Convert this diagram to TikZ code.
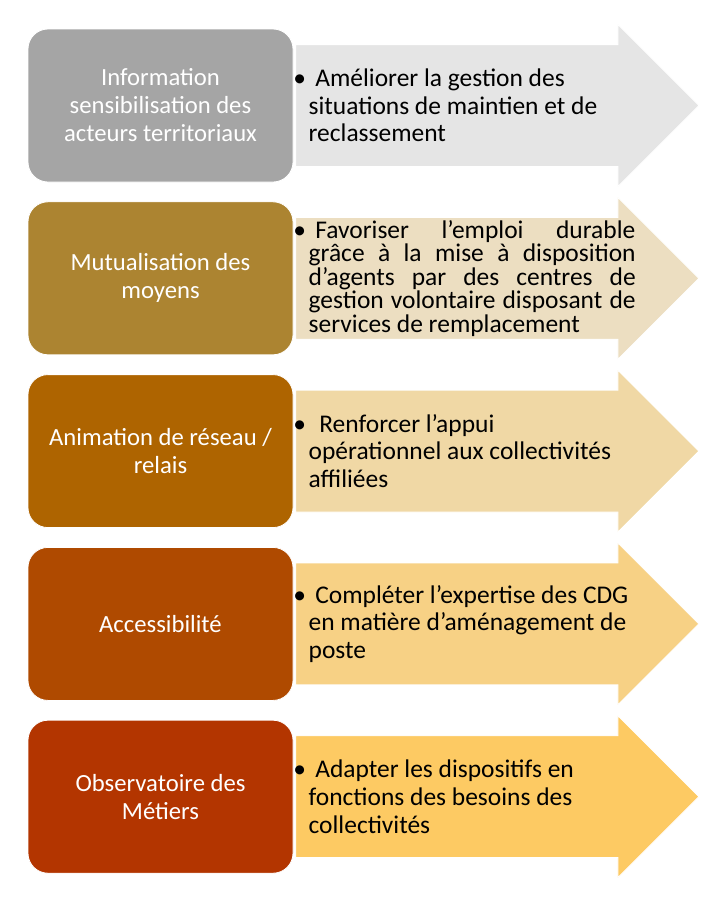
\documentclass[tikz,border=0pt]{standalone}
\usepackage{fontspec}
\setmainfont{Carlito}
\usetikzlibrary{shapes.arrows,positioning}

\definecolor{boxA}{HTML}{A5A5A5}
\definecolor{boxB}{HTML}{AC8431}
\definecolor{boxC}{HTML}{AE6400}
\definecolor{boxD}{HTML}{AF4A00}
\definecolor{boxE}{HTML}{B33500}
\definecolor{arrA}{HTML}{E5E5E5}
\definecolor{arrB}{HTML}{ECDEC1}
\definecolor{arrC}{HTML}{F0D8A5}
\definecolor{arrD}{HTML}{F7D185}
\definecolor{arrE}{HTML}{FDCA63}

% bullet at the start of each goal text
\newcommand{\puce}{\makebox[0pt][r]{\textbullet\hspace{2pt}}\hspace{5pt}}

\tikzset{
  % Action box: rounded, white text
  actionbox/.style={draw=white, line width=0.6pt, rectangle, rounded corners=15pt,
                    minimum width=198.75pt, minimum height=114.75pt, inner sep=0pt,
                    align=center, text=white, font=\fontsize{18.5}{21}\selectfont},
  % Goal arrow behind the text (body height set by text height)
  goalarrow/.style={draw=white, line width=0.6pt, single arrow, single arrow head extend=15pt,
                    single arrow tip angle=90, minimum height=302.25pt,
                    text height=90.75pt, text depth=0pt, inner sep=0pt},
  goaltext/.style={inner sep=0pt, align=left, text=black, font=\fontsize{19.1}{20.7}\selectfont},
  goaltext-tight/.style={goaltext, font=\fontsize{19.1}{16.3}\selectfont}
}

\begin{document}
\begin{tikzpicture}
\useasboundingbox (0pt,0pt) rectangle (542.25pt,-675pt);

% ============== LEFT COLUMN: actions ==============
\node[actionbox, fill=boxA] (info) at (120.375pt,-79.125pt)
  {Information\\sensibilisation des\\acteurs territoriaux};
\node[actionbox, fill=boxB, below=14.25pt of info] (mutu)
  {Mutualisation des\\moyens};
\node[actionbox, fill=boxC, below=14.25pt of mutu] (anim)
  {Animation de réseau /\\relais};
\node[actionbox, fill=boxD, below=14.25pt of anim] (acces)
  {Accessibilité};
\node[actionbox, fill=boxE, below=14.25pt of acces] (obs)
  {Observatoire des\\Métiers};

% ============== RIGHT COLUMN: goal arrows ==============
\node[goalarrow, fill=arrA, right=1.5pt of info] (arrinfo) {};
\node[goalarrow, fill=arrB, right=1.5pt of mutu] (arrmutu) {};
\node[goalarrow, fill=arrC, right=1.5pt of anim] (arranim) {};
\node[goalarrow, fill=arrD, right=1.5pt of acces] (arracces) {};
\node[goalarrow, fill=arrE, right=1.5pt of obs] (arrobs) {};

% goal texts
\node[goaltext, right=9.75pt of arrinfo.west] (txtinfo)
  {\puce Améliorer la gestion des\\situations de maintien et de\\reclassement};
\node[goaltext-tight, right=9.75pt of arrmutu.west] (txtmutu)
  {\puce\makebox[240pt][s]{Favoriser l’emploi durable}\\
   \makebox[245.25pt][s]{grâce à la mise à disposition}\\
   \makebox[245.25pt][s]{d’agents par des centres de}\\
   \makebox[245.25pt][s]{gestion volontaire disposant de}\\
   services de remplacement};
\node[goaltext, right=9.75pt of arranim.west] (txtanim)
  {\puce\hspace{3pt}Renforcer l’appui\\opérationnel aux collectivités\\affiliées};
\node[goaltext, right=9.75pt of arracces.west] (txtacces)
  {\puce Compléter l’expertise des CDG\\en matière d’aménagement de\\poste};
\node[goaltext, right=9.75pt of arrobs.west] (txtobs)
  {\puce Adapter les dispositifs en\\fonctions des besoins des\\collectivités};

\end{tikzpicture}
\end{document}
